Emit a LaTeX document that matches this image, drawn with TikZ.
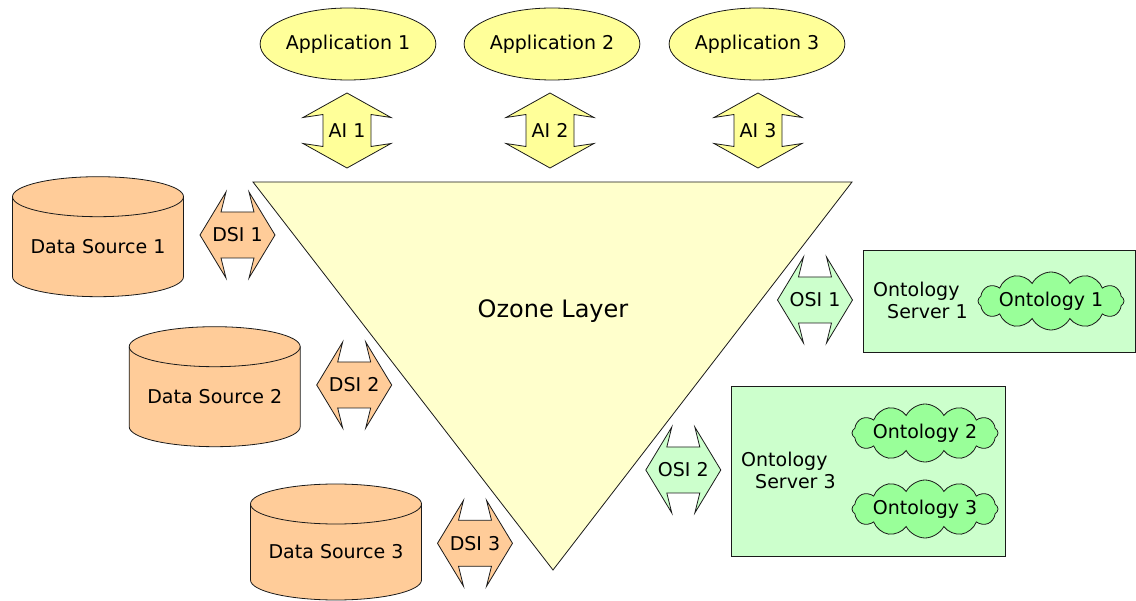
\documentclass[tikz,border=0pt]{standalone}
\usepackage{fontspec}
\setmainfont{DejaVu Sans}
\usetikzlibrary{shapes.geometric,shapes.symbols}

\definecolor{appfill}{HTML}{FFFF99}
\definecolor{ozonefill}{HTML}{FFFFCC}
\definecolor{srcfill}{HTML}{FFCC99}
\definecolor{srvfill}{HTML}{CCFFCC}
\definecolor{ontfill}{HTML}{99FF99}
\definecolor{edge}{HTML}{1A1A1A}

\tikzset{
  every node/.style={font=\fontsize{19}{22}\selectfont, inner sep=0pt},
  outline/.style={draw=edge, line width=0.8pt, line join=miter},
  app/.style={outline, ellipse, fill=appfill, minimum width=172pt, minimum height=72pt},
  server/.style={outline, rectangle, fill=srvfill},
  onto/.style={outline, cloud, cloud puffs=12, cloud puff arc=125, cloud ignores aspect,
    fill=ontfill, minimum width=146pt, minimum height=58pt},
  % vertical double arrow (interface between application and layer)
  pics/vdarrow/.style 2 args={code={
    \draw[outline, fill=#1] (0,-37.5) -- (44,-13) -- (24,-16) -- (24,16) -- (44,13)
      -- (0,37.5) -- (-44,13) -- (-24,16) -- (-24,-16) -- (-44,-13) -- cycle;
    \node (-lbl) at (0,0) {#2};
  }},
  % horizontal double arrow (interface between sources/servers and layer)
  pics/hdarrow/.style 2 args={code={
    \draw[outline, fill=#1] (-37.5,0) -- (-11.5,-43) -- (-16.5,-23) -- (16.5,-23) -- (11.5,-43)
      -- (37.5,0) -- (11.5,43) -- (16.5,23) -- (-16.5,23) -- (-11.5,43) -- cycle;
    \node (-lbl) at (0,0) {#2};
  }},
}

% data source cylinder: name, centre x, top-ellipse y, bottom-ellipse y, text
\newcommand\datasource[5]{%
  \draw[outline, fill=srcfill] (#2-85.5,#3) -- (#2-85.5,#4)
    arc[start angle=180, end angle=0, x radius=85.5, y radius=20]
    -- (#2+85.5,#3)
    arc[start angle=0, end angle=-180, x radius=85.5, y radius=20] -- cycle;
  \draw[outline] (#2-85.5,#3) arc[start angle=180, end angle=0, x radius=85.5, y radius=20];
  \node (#1) at (#2,{(#3+#4)/2+10}) {#5};
}

\begin{document}
\begin{tikzpicture}[x=1pt, y=-1pt]
\useasboundingbox (0,0) rectangle (1136,601);

% applications
\node[app] (app1) at (348,44) {Application 1};
\node[app] (app2) at (552,44) {Application 2};
\node[app] (app3) at (757,44) {Application 3};

% application interfaces
\pic (ai1) at (347,130.5) {vdarrow={appfill}{AI 1}};
\pic (ai2) at (550,130.5) {vdarrow={appfill}{AI 2}};
\pic (ai3) at (758,130.5) {vdarrow={appfill}{AI 3}};

% ozone layer
\coordinate (tl) at (253,182);
\coordinate (tr) at (852,182);
\coordinate (tb) at (553,570);
\draw[outline, fill=ozonefill] (tl) -- (tr) -- (tb) -- cycle;
\node[font=\fontsize{24}{28}\selectfont] (ozone) at (553,311) {Ozone Layer};

% data sources
\datasource{ds1}{98}{196.7}{276.7}{Data Source 1}
\datasource{ds2}{214.7}{346.7}{426.7}{Data Source 2}
\datasource{ds3}{336}{504}{580}{Data Source 3}

% data source interfaces
\pic (dsi1) at (237.5,235) {hdarrow={srcfill}{DSI 1}};
\pic (dsi2) at (354.2,385) {hdarrow={srcfill}{DSI 2}};
\pic (dsi3) at (475,543.3) {hdarrow={srcfill}{DSI 3}};

% ontology servers
\node[server, minimum width=272pt, minimum height=102pt] (srv1) at (999,301) {};
\node[anchor=west, align=left] (srv1txt) at (873,300) {Ontology\\\hspace*{14pt}Server 1};
\node[onto] (ont1) at (1051,301) {};
\node (ont1txt) at (ont1.center) {Ontology 1};

\node[server, minimum width=274pt, minimum height=170pt] (srv3) at (868.7,471.7) {};
\node[anchor=west, align=left] (srv3txt) at (741,470) {Ontology\\\hspace*{14pt}Server 3};
\node[onto] (ont2) at (925,433) {};
\node (ont2txt) at (ont2.center) {Ontology 2};
\node[onto] (ont3) at (925,509) {};
\node (ont3txt) at (ont3.center) {Ontology 3};

% ontology server interfaces
\pic (osi1) at (815,300) {hdarrow={srvfill}{OSI 1}};
\pic (osi2) at (683.3,470) {hdarrow={srvfill}{OSI 2}};
\end{tikzpicture}
\end{document}
